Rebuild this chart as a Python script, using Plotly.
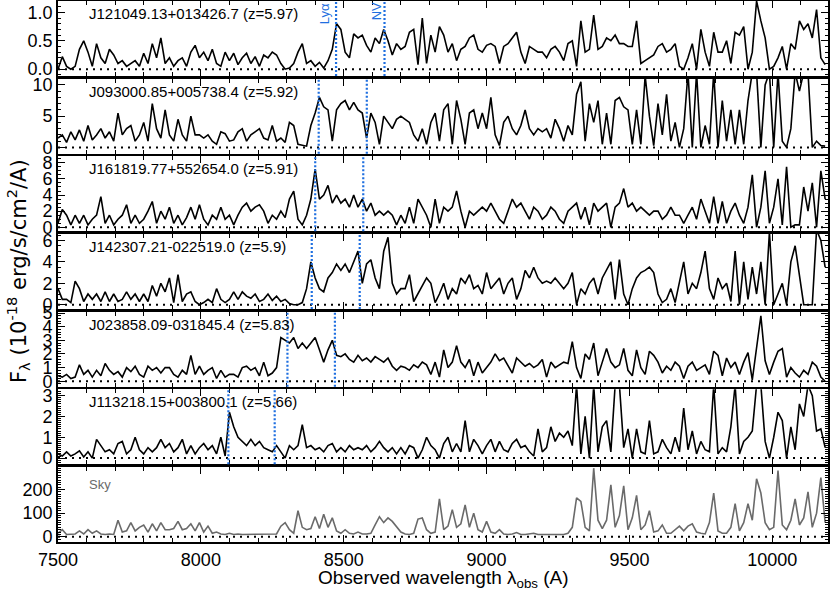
import plotly.graph_objects as go

# ---------------- data ----------------
WL0, DWL, NPIX = 7500, 15, 180
wavelength = [WL0 + DWL * i for i in range(NPIX)]

LYA_REST = 1215.67
NV_REST = 1240.0

quasar_names = ["J121049.13+013426.7", "J093000.85+005738.4", "J161819.77+552654.0",
                "J142307.21-022519.0", "J023858.09-031845.4", "J113218.15+003800.1"]
redshifts = [5.97, 5.92, 5.91, 5.9, 5.83, 5.66]

flux_1 = [0.0,0.22,0.05,0.0,0.05,0.35,0.5,0.3,0.05,0.45,
          0.2,0.1,0.35,0.25,0.1,0.15,0.05,0.1,0.15,0.05,
          0.28,0.1,0.45,0.2,0.55,0.1,0.2,0.05,0.15,0.2,
          0.05,0.3,0.42,0.2,0.3,0.15,0.35,0.1,0.05,0.3,
          0.15,0.28,0.08,0.2,0.28,0.1,0.22,0.05,0.25,0.2,
          0.3,0.25,0.1,0.0,0.02,0.1,0.3,0.45,0.1,0.15,
          0.05,0.12,0.02,0.15,0.35,0.8,0.7,0.3,0.2,0.62,
          0.55,0.6,0.42,0.3,0.55,0.45,0.7,0.5,0.25,0.45,
          0.35,0.4,0.65,0.7,0.08,0.9,0.1,0.6,0.3,0.75,
          0.6,0.3,0.45,0.15,0.35,0.4,0.55,0.6,0.35,0.3,
          0.42,0.45,0.4,0.1,0.4,0.45,0.55,0.65,0.3,0.1,
          0.4,0.35,0.3,0.3,0.2,0.35,0.4,0.3,0.15,0.45,
          0.5,0.05,0.85,0.3,0.35,0.95,0.35,0.4,0.55,0.5,
          0.6,0.45,0.45,0.4,0.4,0.85,0.1,0.15,0.2,0.25,
          0.4,0.45,0.3,0.35,0.45,0.05,0.0,0.2,0.45,0.0,
          0.7,0.3,0.05,0.65,0.3,0.3,0.5,0.1,0.65,0.6,
          0.75,0.0,0.3,1.2,0.85,0.55,0.0,0.05,0.2,0.4,
          0.0,0.45,0.35,0.85,0.7,0.8,0.55,1.05,0.2,0.08]

flux_2 = [1.5,2.0,0.8,2.5,1.2,2.8,1.0,3.5,1.2,2.0,
          3.0,1.5,2.5,1.0,5.5,2.0,3.0,3.5,1.0,2.0,
          4.0,1.0,7.0,3.0,1.5,6.0,2.0,1.0,4.5,2.0,
          1.0,5.0,2.0,2.0,1.5,2.0,1.0,0.5,2.5,2.2,
          1.0,1.2,2.5,3.0,1.0,2.0,2.5,3.0,1.5,1.2,
          3.5,1.0,1.5,0.8,4.0,3.5,0.5,0.3,0.2,3.5,
          5.5,8.0,6.5,6.0,1.0,6.0,7.0,7.5,6.0,7.2,
          6.0,5.5,1.5,5.5,4.0,0.5,5.0,4.0,3.0,4.5,
          5.0,4.5,4.0,2.0,1.0,3.0,0.5,4.0,5.5,1.0,
          6.0,7.0,0.5,7.5,4.5,0.5,5.5,6.0,3.0,5.5,
          3.0,8.0,2.0,0.3,4.0,5.0,3.0,2.0,3.5,6.0,
          3.0,2.0,3.0,2.5,3.0,1.5,4.5,3.0,1.0,3.5,
          2.0,8.5,10.5,1.0,7.0,4.0,7.5,0.5,5.5,0.5,
          7.5,8.0,6.5,6.0,0.5,6.0,0.5,11.5,5.0,0.3,
          7.0,2.0,8.5,1.0,4.0,0.0,3.0,12,0.0,12,
          0.0,3.5,0.5,12,0.0,7.5,1.0,6.0,0.5,6.0,
          0.5,7.5,12,12,0.0,10,12,0.0,12,1.0,
          0.0,3.0,12,9.0,12,12,0.0,1.0,0.3,0.2]

flux_3 = [0.5,2.2,1.5,0.3,1.5,0.5,1.5,0.3,1.0,1.5,
          3.8,0.5,1.5,0.3,1.0,1.5,2.8,0.5,1.5,0.5,
          1.0,2.0,3.2,0.5,2.0,1.0,2.5,0.5,1.5,0.3,
          1.2,2.5,1.0,2.8,1.0,0.3,1.5,1.0,2.5,1.0,
          1.5,0.3,1.5,2.5,3.0,2.0,2.5,2.8,2.0,0.5,
          1.5,1.0,2.0,1.2,3.5,4.5,1.0,0.3,1.5,3.5,
          7.2,3.5,4.0,5.2,3.0,4.0,3.0,3.5,2.5,4.0,
          2.5,3.5,2.0,3.0,1.5,2.0,1.5,2.0,1.5,0.3,
          1.5,0.5,2.5,0.5,3.5,2.5,1.5,0.0,3.5,0.5,
          2.5,2.0,2.5,4.5,2.0,0.0,2.0,1.5,2.0,2.5,
          2.0,3.0,2.0,1.0,0.5,2.0,3.5,2.5,3.0,2.0,
          1.0,2.5,2.0,1.0,1.5,2.5,2.0,1.0,0.5,2.0,
          2.5,3.0,1.0,2.5,0.3,3.0,2.0,2.5,3.0,0.0,
          2.5,3.0,4.8,2.5,3.0,2.0,2.5,2.0,1.5,2.0,
          2.0,1.0,1.5,2.5,1.5,1.5,0.5,1.5,2.5,1.0,
          3.5,2.0,0.5,3.8,0.5,3.2,0.5,2.0,3.0,1.5,
          0.5,2.5,6.5,0.0,2.5,7.0,0.5,2.5,6.0,0.3,
          7.5,0.0,0.3,0.3,5.0,2.0,5.5,0.0,7.0,3.5]

flux_4 = [1.5,0.5,0.5,0.2,2.2,1.5,0.3,1.0,0.5,1.0,
          0.3,1.2,0.3,1.0,0.3,0.5,1.2,0.5,1.0,0.3,
          1.0,0.3,1.8,0.8,2.0,1.2,2.5,0.2,2.8,0.3,
          1.0,1.2,0.3,0.0,0.2,0.5,0.2,1.5,0.5,0.2,
          0.5,1.2,0.5,1.2,0.8,0.6,1.0,0.3,0.5,1.0,
          0.4,0.8,0.3,0.5,0.1,0.0,0.0,0.2,1.5,4.0,
          2.5,1.5,1.2,2.5,3.0,3.8,3.2,3.8,3.0,4.0,
          5.0,2.0,3.8,4.2,2.5,1.5,5.0,6.3,2.0,1.0,
          1.5,1.5,2.8,0.3,1.0,1.8,2.5,2.0,0.2,1.0,
          2.0,0.5,1.5,1.0,2.5,2.0,2.8,1.5,1.8,1.0,
          3.0,1.5,2.0,2.5,1.0,2.0,2.5,0.5,1.5,3.2,
          2.5,3.5,2.5,2.0,2.2,2.0,2.5,2.0,1.5,2.0,
          3.0,0.0,1.5,1.0,2.0,2.5,1.0,2.5,3.2,4.0,
          0.5,4.2,1.0,0.0,1.5,2.5,3.0,3.2,3.5,3.0,
          1.0,0.2,0.5,1.5,0.2,2.0,4.0,1.0,2.0,1.5,
          3.0,5.0,1.5,0.5,2.5,1.5,2.0,0.3,5.0,0.0,
          4.0,0.5,3.5,1.0,4.0,0.0,6.8,0.0,1.0,2.0,
          0.0,4.0,5.5,2.5,0.0,0.0,0.0,7.0,6.0,3.5]

flux_5 = [0.4,0.3,0.5,0.2,0.3,1.2,0.5,0.8,0.3,0.8,
          0.4,1.3,0.8,0.5,0.7,0.3,1.0,0.7,1.1,0.5,
          0.3,1.1,0.8,1.0,0.6,1.0,1.0,0.5,0.3,0.8,
          0.5,1.9,0.5,1.1,0.5,0.8,1.0,0.2,0.8,0.3,
          0.5,0.5,0.3,1.0,1.1,0.8,1.0,0.4,1.4,0.4,
          0.6,1.0,3.2,3.0,2.8,3.2,2.4,2.8,2.4,2.8,
          3.2,2.3,1.4,2.3,3.0,1.9,1.8,2.0,1.6,1.4,
          1.9,1.5,1.7,1.4,1.8,1.6,1.4,1.7,1.1,0.8,
          1.1,1.0,0.8,1.2,1.0,1.4,1.2,0.5,1.4,0.3,
          2.3,1.0,1.4,2.6,1.4,1.0,1.6,0.4,1.4,0.6,
          1.0,1.4,2.0,1.5,1.7,1.1,0.6,1.7,1.4,1.1,
          1.3,1.0,1.2,1.6,0.3,1.4,1.0,1.2,1.4,1.3,
          2.9,1.0,0.2,2.0,1.6,2.8,0.4,1.4,2.4,1.4,
          1.0,1.2,2.4,0.8,0.4,2.3,1.0,0.5,2.2,1.9,
          1.4,0.6,1.1,0.8,1.4,1.1,0.2,1.1,1.4,0.8,
          1.0,1.2,0.5,2.2,1.9,0.4,1.7,1.0,1.4,0.5,
          1.4,2.1,0.1,2.4,4.8,1.5,0.5,1.4,2.2,2.4,
          0.3,1.0,0.6,0.3,0.8,0.5,1.4,1.1,0.3,0.0]

flux_6 = [0.2,0.1,0.3,0.1,0.2,0.35,0.05,0.3,0.0,0.9,
          0.6,0.3,0.4,0.2,0.7,0.8,0.2,0.4,1.0,0.4,
          0.2,0.5,0.3,0.5,0.9,0.5,0.7,0.3,0.5,0.9,
          0.2,0.6,0.2,0.5,0.7,0.4,0.6,0.2,1.0,0.1,
          2.2,1.5,1.0,0.8,0.6,0.9,0.6,0.8,0.5,0.4,
          0.3,0.6,0.3,0.0,0.6,0.4,0.6,1.6,0.5,0.6,
          0.4,0.5,0.3,0.6,0.7,0.3,0.5,0.3,0.6,0.4,
          0.5,0.4,0.6,0.3,0.5,0.8,0.5,0.3,0.5,0.2,
          0.5,0.2,0.6,0.5,0.0,0.4,1.0,0.6,0.4,0.0,
          0.7,1.0,0.3,0.7,0.3,1.8,0.3,0.9,0.6,0.2,
          0.6,0.9,0.3,0.8,0.4,0.3,0.7,0.9,0.5,0.6,
          0.3,0.1,1.4,0.3,0.5,1.5,0.8,1.2,1.0,1.3,
          0.6,3.5,0.2,2.0,0.0,3.5,0.3,1.5,1.8,0.3,
          3.5,3.5,0.5,1.4,0.0,1.4,0.3,0.2,1.8,0.2,
          0.3,0.9,0.5,0.2,1.0,0.3,2.4,0.4,1.3,0.2,
          0.8,0.4,0.3,3.5,0.2,0.5,0.3,1.5,3.5,0.2,
          0.8,1.0,1.3,3.5,3.5,0.8,0.0,1.0,2.2,1.8,
          0.0,1.5,0.4,2.6,2.0,3.5,3.0,1.3,1.4,0.5]

sky_flux = [15,30,10,10,12,25,12,30,15,25,
            12,10,12,10,70,20,25,60,25,40,
            50,20,55,25,60,30,30,35,65,30,
            35,55,25,60,20,45,15,20,12,10,
            15,10,12,10,10,12,10,10,10,10,
            10,12,45,60,30,15,110,40,30,35,
            85,35,95,40,80,25,15,30,15,12,
            20,12,12,15,50,85,60,80,65,40,
            20,12,10,15,75,80,30,15,20,160,
            30,45,115,40,55,135,40,100,30,20,
            65,20,15,30,12,10,12,18,10,10,
            12,15,10,10,10,12,10,10,10,15,
            40,165,150,40,25,290,70,35,70,220,
            40,90,215,30,80,175,30,50,110,20,
            25,50,15,15,30,45,25,45,55,20,
            15,12,60,185,25,15,15,40,140,25,
            60,140,70,245,185,60,30,40,280,50,
            30,70,160,50,80,190,40,100,250,60]

spectra = [flux_1, flux_2, flux_3, flux_4, flux_5, flux_6]
y_ranges = [[-0.12, 1.2], [-1, 11], [-0.5, 8.8], [-0.4, 6.6], [-0.4, 5.1], [-0.3, 3.3], [-22, 295]]
y_dticks = [0.5, 5, 2, 2, 1, 1, 100]
y_minor = [0.1, 1, 0.5, 0.5, 0.2, 0.1, 10]
y_formats = [".1f", "d", "d", "d", "d", "d", "d"]
x_range = [7500, 10195]

# ---------------- layout geometry ----------------
W, H = 830, 593
ML, MR, MT, MB = 58, 2, 1, 51
PH = H - MT - MB
PW = W - ML - MR
NP = 7
panel_h = 75
gap = (PH - NP * panel_h) / (NP - 1)

BLUE = "#1f6fe0"
FONT = "Liberation Sans, Arial, sans-serif"
WIDE_FONT = "DejaVu Sans, sans-serif"

fig = go.Figure()
layout = dict(width=W, height=H, margin=dict(l=ML, r=MR, t=MT, b=MB, autoexpand=False),
              paper_bgcolor="white", plot_bgcolor="white", showlegend=False,
              font=dict(family=FONT, color="black"))
shapes, annotations = [], []

for k in range(NP):
    top = k * (panel_h + gap)
    dom = [1 - (top + panel_h) / PH, 1 - top / PH]
    xa = "xaxis" if k == 0 else f"xaxis{k+1}"
    ya = "yaxis" if k == 0 else f"yaxis{k+1}"
    xr = "x" if k == 0 else f"x{k+1}"
    yr = "y" if k == 0 else f"y{k+1}"
    layout[xa] = dict(domain=[0, 1], range=x_range, anchor=yr, automargin=False,
                      showline=True, mirror="ticks", linecolor="black", linewidth=1.8,
                      ticks="inside", ticklen=7, tickwidth=1.3, tickcolor="black",
                      tickmode="linear", tick0=7500, dtick=500, tickformat="d",
                      minor=dict(dtick=100, tick0=7500, ticks="inside", ticklen=4,
                                 tickwidth=1.1, tickcolor="black"),
                      showgrid=False, zeroline=False,
                      showticklabels=(k == NP - 1),
                      tickfont=dict(size=18, family=FONT))
    if k > 0:
        layout[xa]["matches"] = "x"
    layout[ya] = dict(domain=dom, range=y_ranges[k], anchor=xr, automargin=False,
                      showline=True, mirror="ticks", linecolor="black", linewidth=1.8,
                      ticks="inside", ticklen=7, tickwidth=1.3, tickcolor="black",
                      tickmode="linear", tick0=0, dtick=y_dticks[k], tickformat=y_formats[k],
                      minor=dict(dtick=y_minor[k], tick0=0, ticks="inside", ticklen=3.5,
                                 tickwidth=1, tickcolor="black"),
                      showgrid=False, zeroline=False,
                      tickfont=dict(size=18, family=FONT))

    if k < 6:
        fig.add_trace(go.Scatter(x=wavelength, y=spectra[k], mode="lines",
                                 line=dict(color="black", width=1.6),
                                 xaxis=xr, yaxis=yr, hoverinfo="skip"))
        z = redshifts[k]
        for rest in (LYA_REST, NV_REST):
            wl = rest * (1 + z)
            shapes.append(dict(type="line", xref=xr, yref=f"{yr} domain",
                               x0=wl, x1=wl, y0=0, y1=1, layer="above",
                               line=dict(color=BLUE, width=2.2, dash="2px,2px")))
        annotations.append(dict(text=f"{quasar_names[k]} (z={z:g})",
                                xref="paper", yref=f"{yr} domain",
                                x=(87 - ML) / PW, y=1 - 12.5 / panel_h,
                                xanchor="left", yanchor="middle", showarrow=False,
                                font=dict(size=15, family=FONT, color="black")))
    else:
        fig.add_trace(go.Scatter(x=wavelength, y=sky_flux, mode="lines",
                                 line=dict(color="#6a6a6a", width=1.6),
                                 xaxis=xr, yaxis=yr, hoverinfo="skip"))
        annotations.append(dict(text="Sky", xref="paper", yref=f"{yr} domain",
                                x=(87 - ML) / PW, y=1 - 17 / panel_h,
                                xanchor="left", yanchor="middle", showarrow=False,
                                font=dict(size=13, family=FONT, color="#6a6a6a")))
    # dotted zero line
    shapes.append(dict(type="line", xref=f"{xr} domain", yref=yr,
                       x0=0, x1=1, y0=0, y1=0, layer="below",
                       line=dict(color="black", width=2, dash="2px,5px")))

# line labels in the top panel
z0 = redshifts[0]
annotations.append(dict(text="Lyα", xref="x", yref="y domain",
                        x=LYA_REST * (1 + z0) - 38, y=1 - 13 / panel_h,
                        textangle=-90, showarrow=False, xanchor="center", yanchor="middle",
                        font=dict(size=13, family=FONT, color=BLUE)))
annotations.append(dict(text="NV", xref="x", yref="y domain",
                        x=NV_REST * (1 + z0) - 25, y=1 - 10 / panel_h,
                        textangle=-90, showarrow=False, xanchor="center", yanchor="middle",
                        font=dict(size=13, family=FONT, color=BLUE)))

# axis titles
annotations.append(dict(text="Observed wavelength λ<sub>obs</sub> (A)",
                        xref="paper", yref="paper", x=0.5, y=-(579 - (H - MB)) / PH,
                        xanchor="center", yanchor="middle", showarrow=False,
                        font=dict(size=19, family=FONT, color="black")))
annotations.append(dict(text="F<sub>λ</sub> (10<sup>-18</sup> erg/s/cm<sup>2</sup>/A)",
                        xref="paper", yref="paper", x=(18 - ML) / PW, y=1 - (271 - MT) / PH,
                        xanchor="center", yanchor="middle", textangle=-90, showarrow=False,
                        font=dict(size=21, family=WIDE_FONT, color="black")))

layout["shapes"] = shapes
layout["annotations"] = annotations
fig.update_layout(**layout)
fig.write_html("out.html", config={"displayModeBar": False},
               post_script="document.body.style.margin='0px';document.body.style.overflow='hidden';")
